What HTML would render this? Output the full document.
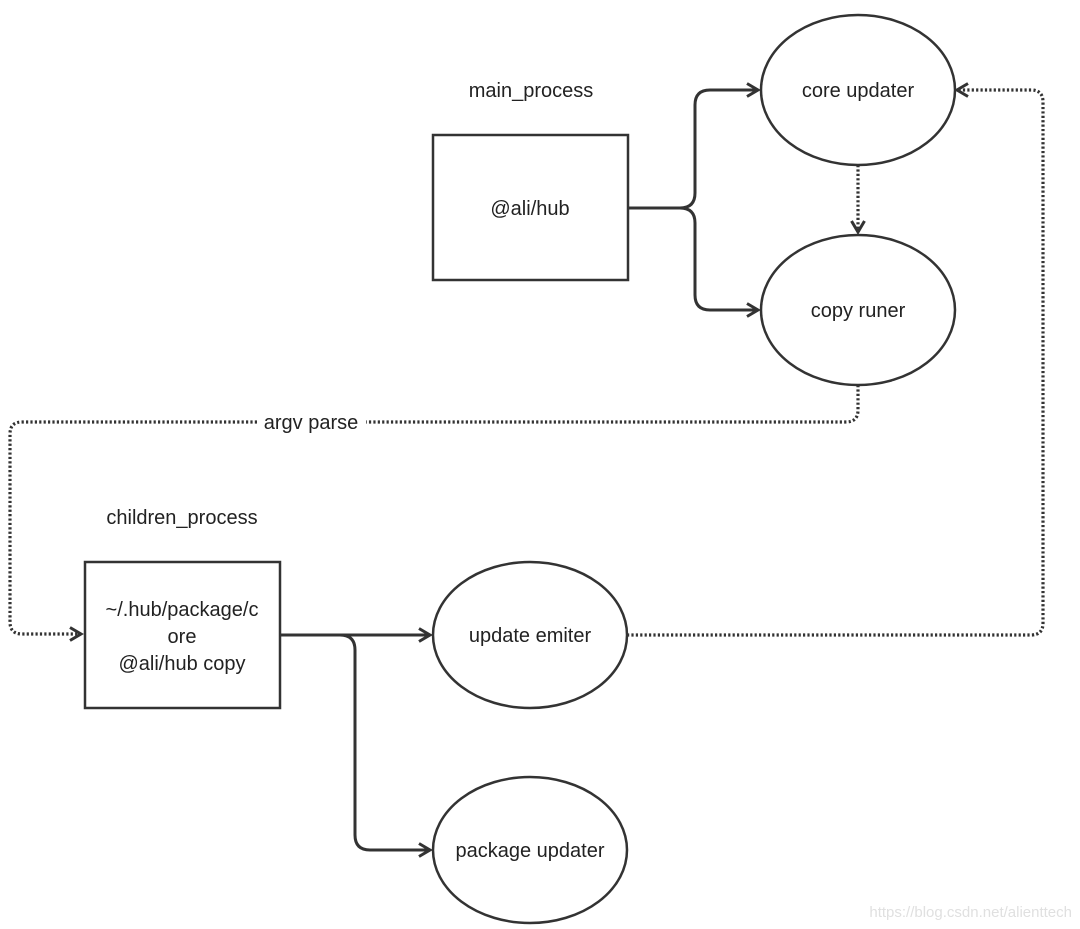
<!DOCTYPE html>
<html><head><meta charset="utf-8"><style>
html,body{margin:0;padding:0;background:#fff;}
svg{display:block;}
text{font-family:"Liberation Sans",Arial,sans-serif;fill:#222;}
</style></head><body>
<svg width="1080" height="929" viewBox="0 0 1080 929" xmlns="http://www.w3.org/2000/svg">
<defs>
<marker id="ah" markerWidth="16" markerHeight="16" refX="12" refY="8" orient="auto" markerUnits="userSpaceOnUse">
<path d="M1,1.5 L12,8 L1,14.5" fill="none" stroke="#333" stroke-width="3"/>
</marker>
</defs>
<g fill="none" stroke="#333" stroke-width="2.5">
<rect x="433" y="135" width="195" height="145"/>
<ellipse cx="858" cy="90" rx="97" ry="75"/>
<ellipse cx="858" cy="310" rx="97" ry="75"/>
<rect x="85" y="562" width="195" height="146"/>
<ellipse cx="530" cy="635" rx="97" ry="73"/>
<ellipse cx="530" cy="850" rx="97" ry="73"/>
<path d="M628,208 L680,208 Q695,208 695,193 L695,105 Q695,90 710,90 L758,90" marker-end="url(#ah)" stroke-width="3"/>
<path d="M628,208 L680,208 Q695,208 695,223 L695,295 Q695,310 710,310 L758,310" marker-end="url(#ah)" stroke-width="3"/>
<path d="M280,635 L430,635" marker-end="url(#ah)" stroke-width="3"/>
<path d="M280,635 L340,635 Q355,635 355,650 L355,835 Q355,850 370,850 L430,850" marker-end="url(#ah)" stroke-width="3"/>
<g stroke-width="3.2" stroke-dasharray="2.2,2.2">
<path d="M858,165 L858,232" marker-end="url(#ah)"/>
<path d="M858,385 L858,410 Q858,422 846,422 L366,422"/>
<path d="M257,422 L22,422 Q10,422 10,434 L10,622 Q10,634 22,634 L81,634" marker-end="url(#ah)"/>
<path d="M627,635 L1031,635 Q1043,635 1043,623 L1043,102 Q1043,90 1031,90 L957,90" marker-end="url(#ah)"/>
</g>
</g>
<g font-size="20" text-anchor="middle">
<text x="531" y="97">main_process</text>
<text x="530" y="215">@ali/hub</text>
<text x="858" y="97">core updater</text>
<text x="858" y="317">copy runer</text>
<text x="311" y="429">argv parse</text>
<text x="182" y="524">children_process</text>
<text x="182" y="616">~/.hub/package/c</text>
<text x="182" y="643">ore</text>
<text x="182" y="670">@ali/hub copy</text>
<text x="530" y="642">update emiter</text>
<text x="530" y="857">package updater</text>
</g>
<text x="1072" y="917" font-size="15" text-anchor="end" style="fill:#e0e0e0">https://blog.csdn.net/alienttech</text>
</svg>
</body></html>
